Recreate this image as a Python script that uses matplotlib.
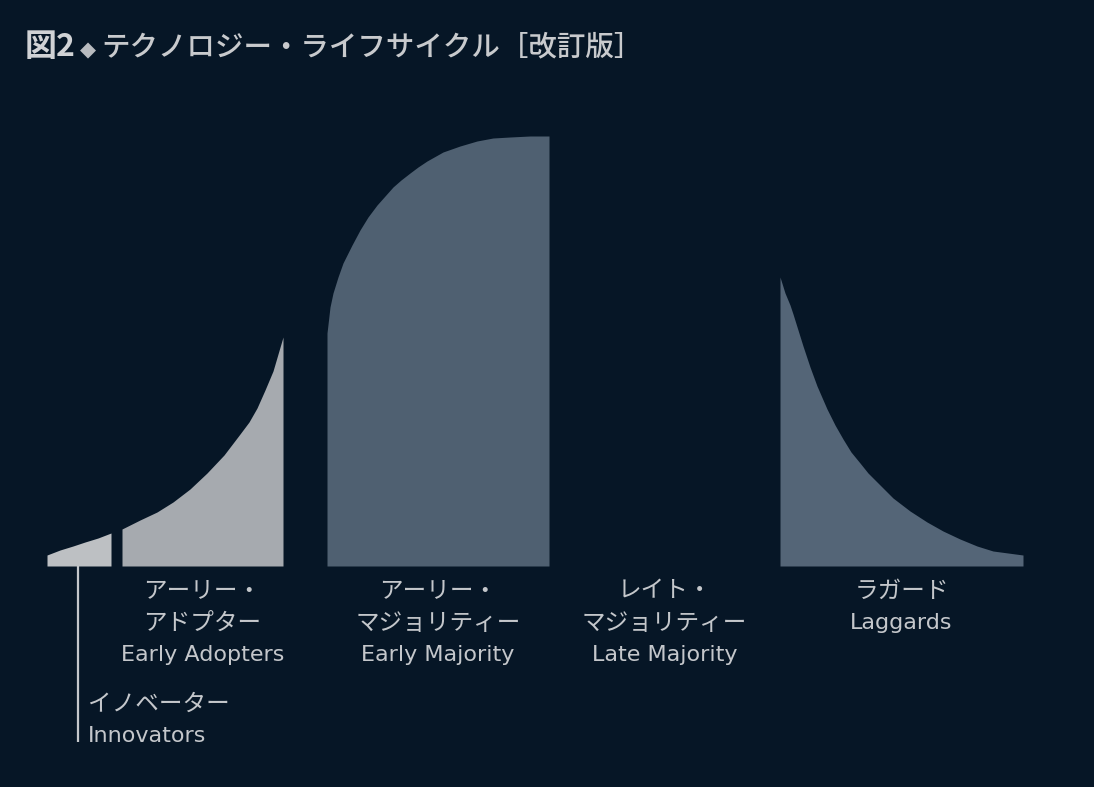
import matplotlib
matplotlib.use("Agg")
import matplotlib.pyplot as plt

plt.rcParams['font.family'] = ['Noto Sans CJK JP', 'DejaVu Sans']

# ---- data (curve heights, baseline = 0) ----
innov_x = [47, 60, 73, 85, 98, 111]
innov_h = [11, 16, 20, 24, 28, 33]

early_adopt_x = [122, 140, 157, 173, 190, 207, 224, 240, 249, 257, 265, 273, 278, 283]
early_adopt_h = [37, 46, 54, 64, 77, 93, 111, 132, 144, 158, 176, 195, 212, 229]

early_major_x = [327, 330, 333, 338, 343, 352, 360, 368, 377, 385, 393, 401, 410,
                 418, 427, 443, 460, 477, 493, 510, 530, 549]
early_major_h = [233, 259, 273, 289, 303, 321, 336, 349, 361, 370, 379, 386, 393,
                 399, 405, 414, 420, 425, 428, 429, 430, 430]

late_major_x = [549, 780]   # segment span only (not drawn in the original)

laggard_x = [780, 785, 790, 793, 798, 803, 810, 817, 827, 835, 843, 851, 860, 868,
             877, 893, 910, 927, 943, 960, 977, 993, 1008, 1023]
laggard_h = [289, 273, 261, 252, 236, 220, 199, 180, 157, 141, 127, 114, 103, 93,
             84, 68, 55, 44, 35, 27, 20, 15, 13, 11]

labels_jp = {
    'innov': 'イノベーター',
    'ea': 'アーリー・\nアドプター',
    'em': 'アーリー・\nマジョリティー',
    'lm': 'レイト・\nマジョリティー',
    'lag': 'ラガード',
}
labels_en = {
    'innov': 'Innovators',
    'ea': 'Early Adopters',
    'em': 'Early Majority',
    'lm': 'Late Majority',
    'lag': 'Laggards',
}

title_main = '図2'
title_rest = 'テクノロジー・ライフサイクル［改訂版］'

# ---- style ----
BG = '#061626'
TXT = '#c4c7cb'
C_INNOV = '#bdc0c3'
C_EA = '#a6aaaf'
C_EM = '#4f6071'
C_LAG = '#546577'

W, H = 1094, 787
fig = plt.figure(figsize=(W / 100, H / 100), dpi=100, facecolor=BG)
ax = fig.add_axes([0, 0, 1, 1])
ax.set_facecolor(BG)
BASE = 566
ax.set_xlim(0, W)
ax.set_ylim(BASE - H, BASE)
ax.axis('off')

for xs, hs, c in [(innov_x, innov_h, C_INNOV),
                  (early_adopt_x, early_adopt_h, C_EA),
                  (early_major_x, early_major_h, C_EM),
                  (laggard_x, laggard_h, C_LAG)]:
    ax.fill_between(xs, 0, hs, color=c, linewidth=0)

def center(xs):
    return (xs[0] + xs[-1]) / 2

fs_jp = 17
fs_en = 16
lh = 32  # line height in px

def lbl(x, top, jp, en, ha='center'):
    lines = jp.split('\n')
    for i, t in enumerate(lines):
        ax.text(x, BASE - (top + i * lh), t, color=TXT, fontsize=fs_jp,
                ha=ha, va='center')
    ax.text(x, BASE - (top + len(lines) * lh), en, color=TXT, fontsize=fs_en,
            ha=ha, va='center', family=['DejaVu Sans'])

lbl(center(early_adopt_x), 591, labels_jp['ea'], labels_en['ea'])
lbl(center(early_major_x), 591, labels_jp['em'], labels_en['em'])
lbl(center(late_major_x), 591, labels_jp['lm'], labels_en['lm'])
lbl(center(laggard_x), 591, labels_jp['lag'], labels_en['lag'])

# innovators leader line and label
ix = center(innov_x) - 1
ax.plot([ix, ix], [0, BASE - 742], color=TXT, linewidth=1.6, solid_capstyle='butt')
lbl(ix + 10, 704, labels_jp['innov'], labels_en['innov'], ha='left')

# title
fig.text(25 / W, 1 - 47 / H, title_main, color='#d0d2d5', fontsize=23,
         fontweight='bold', ha='left', va='center')
fig.text(88 / W, 1 - 50 / H, '◆', color='#b8bbbf', fontsize=15,
         ha='center', va='center', family=['DejaVu Sans'])
fig.text(101 / W, 1 - 47 / H, title_rest, color='#c8cacd', fontsize=20.5,
         fontweight='medium', ha='left', va='center')

fig.savefig('out.png', dpi=100, facecolor=BG)
